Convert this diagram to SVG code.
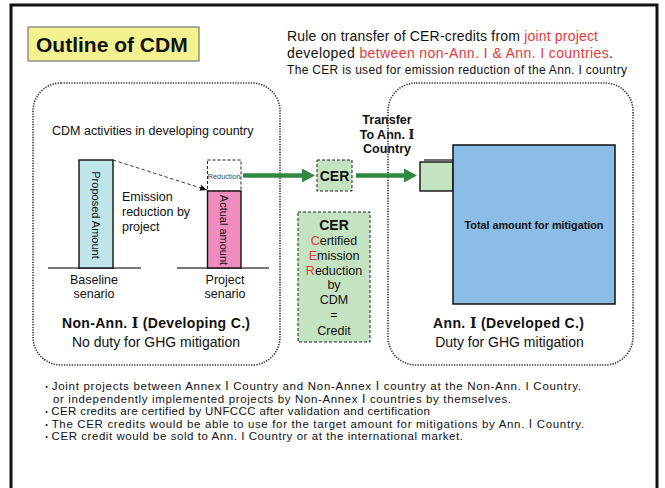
<svg xmlns="http://www.w3.org/2000/svg" width="665" height="488" viewBox="0 0 665 488">
  <style>
    text { font-family: "Liberation Sans", Arial, "DejaVu Sans", "Noto Sans CJK JP", sans-serif; fill: #111; }
    .b { font-weight: bold; }
    .red { fill: #e8383d; }
    .num { font-family: "DejaVu Serif", "Noto Sans CJK JP", serif; }
    .region { fill: none; stroke: #333; stroke-width: 1.6; stroke-dasharray: 1.3 1.3; }
    .dash { stroke: #222; stroke-width: 1; stroke-dasharray: 3 2; }
    .solid { stroke: #111; stroke-width: 1.4; }
    .ground { stroke: #777; stroke-width: 2; }
    .green { fill: #c4e3c0; }
    .flow { stroke: #2f8a3f; stroke-width: 4.5; fill: none; }
    .body { font-size: 12.5px; }
    .note { font-size: 11.5px; }
    .bullet { font-family: "Noto Sans CJK JP", sans-serif; font-size: 9px; }
  </style>
  <defs>
    <marker id="greenHead" viewBox="0 0 13 14" markerWidth="13" markerHeight="14" refX="0" refY="7" orient="auto" markerUnits="userSpaceOnUse">
      <path d="M0,0 L13,7 L0,14 z" fill="#2f8a3f"/>
    </marker>
    <marker id="thinHead" viewBox="0 0 7 6" markerWidth="7" markerHeight="6" refX="7" refY="3" orient="auto" markerUnits="userSpaceOnUse">
      <path d="M0,0 L7,3 L0,6 z" fill="#111"/>
    </marker>
  </defs>

  <rect width="665" height="488" fill="#fff"/>

  <!-- outer frame -->
  <rect id="frame" x="11" y="5" width="646" height="500" fill="none" stroke="#111" stroke-width="3"/>

  <!-- heading -->
  <g id="title">
    <rect x="28" y="27" width="171" height="34" fill="#f2f28e" stroke="#777" stroke-width="1.2"/>
    <text x="36" y="52" class="b" font-size="21">Outline of CDM</text>
  </g>

  <g id="rule-text">
    <text x="287" y="41" font-size="14" textLength="311">Rule on transfer of CER-credits from <tspan class="red">joint project</tspan></text>
    <text x="287" y="57.5" font-size="14" textLength="326">developed <tspan class="red">between non-Ann. Ⅰ  &amp; Ann. I countries</tspan>.</text>
    <text x="287" y="74" font-size="12" textLength="340">The CER is used for emission reduction of the Ann. I country</text>
  </g>

  <!-- developing country region -->
  <g id="region-developing">
    <rect class="region" x="33" y="83" width="247" height="282" rx="28"/>
    <text x="52" y="135" class="body">CDM activities in developing country</text>
    <text x="62" y="328" class="b" font-size="14" textLength="188">Non-Ann. <tspan class="num">Ⅰ</tspan> (Developing C.)</text>
    <text x="156" y="347" font-size="14" text-anchor="middle">No duty for GHG mitigation</text>
  </g>

  <g id="bar-baseline">
    <line class="ground" x1="48" y1="268" x2="141" y2="268"/>
    <rect x="79" y="160" width="34" height="108" fill="#bfe4ea" class="solid"/>
    <text transform="translate(96,215) rotate(90)" font-size="11" text-anchor="middle" dominant-baseline="central">Proposed Amount</text>
    <text x="94" y="284" class="body" text-anchor="middle">Baseline</text>
    <text x="94" y="298" class="body" text-anchor="middle">senario</text>
  </g>

  <g id="bar-project">
    <line class="ground" x1="177" y1="268" x2="269" y2="268"/>
    <rect x="207.5" y="160" width="33.5" height="31" fill="#fff" class="dash"/>
    <text x="224.2" y="178.5" font-size="7.3" text-anchor="middle" style="fill:#444">Reduction</text>
    <rect x="207.5" y="191" width="33.5" height="77" fill="#f18cbf" class="solid"/>
    <text transform="translate(224.2,230) rotate(90)" font-size="11" text-anchor="middle" dominant-baseline="central">Actual amount</text>
    <text x="225" y="284" class="body" text-anchor="middle">Project</text>
    <text x="225" y="298" class="body" text-anchor="middle">senario</text>
  </g>

  <g id="label-reduction">
    <text x="122" y="201" class="body">Emission</text>
    <text x="122" y="216" class="body">reduction by</text>
    <text x="122" y="231" class="body">project</text>
  </g>

  <!-- credit in transit -->
  <g id="cer-token">
    <rect x="317" y="160" width="35" height="31" class="green dash"/>
    <text x="334.5" y="181" class="b" font-size="14" text-anchor="middle">CER</text>
  </g>

  <g id="transfer-label" class="b" font-size="12.5">
    <text x="387" y="124" text-anchor="middle">Transfer</text>
    <text x="387" y="138.5" text-anchor="middle">To Ann. <tspan class="num">Ⅰ</tspan></text>
    <text x="387" y="153" text-anchor="middle">Country</text>
  </g>

  <g id="cer-definition">
    <rect x="298" y="212" width="72" height="130" class="green dash"/>
    <g font-size="12.5" text-anchor="middle">
      <text x="334" y="230" class="b" font-size="14">CER</text>
      <text x="334" y="245"><tspan class="red">C</tspan>ertified</text>
      <text x="334" y="260"><tspan class="red">E</tspan>mission</text>
      <text x="334" y="275"><tspan class="red">R</tspan>eduction</text>
      <text x="334" y="289">by</text>
      <text x="334" y="304">CDM</text>
      <text x="334" y="319">=</text>
      <text x="334" y="335">Credit</text>
    </g>
  </g>

  <!-- developed country region -->
  <g id="region-developed">
    <rect class="region" x="388" y="83" width="245" height="282" rx="28"/>
    <text x="433" y="328" class="b" font-size="14" textLength="151">Ann. <tspan class="num">Ⅰ</tspan> (Developed C.)</text>
    <text x="509.5" y="347" font-size="14" text-anchor="middle">Duty for GHG mitigation</text>
  </g>

  <g id="credit-received">
    <line x1="424" y1="160" x2="453" y2="160" stroke="#111" stroke-width="1.2"/>
    <rect x="420" y="162" width="33" height="29" class="green" stroke="#111" stroke-width="1.4"/>
  </g>

  <g id="total-mitigation">
    <rect x="453" y="145" width="162" height="159" fill="#8bbde6" stroke="#111" stroke-width="1.5"/>
    <text x="534" y="229" class="b" font-size="10.8" text-anchor="middle">Total amount for mitigation</text>
  </g>

  <!-- connectors -->
  <g id="connectors">
    <line x1="113" y1="160" x2="207" y2="190" stroke="#222" stroke-width="0.9" stroke-dasharray="3.5 2.5" marker-end="url(#thinHead)"/>
    <line class="flow" x1="243" y1="175.5" x2="302" y2="175.5" marker-end="url(#greenHead)"/>
    <line class="flow" x1="356" y1="175.5" x2="404" y2="175.5" marker-end="url(#greenHead)"/>
  </g>

  <!-- notes -->
  <g id="notes" class="note">
    <text x="42" y="390" textLength="539"><tspan class="bullet">・</tspan>Joint projects between Annex Ⅰ  Country and Non-Annex  Ⅰ country at the Non-Ann. I Country.</text>
    <text x="53" y="402.5" textLength="458">or independently implemented projects by Non-Annex  Ⅰ countries by themselves.</text>
    <text x="42" y="415" textLength="388"><tspan class="bullet">・</tspan>CER credits are certified by UNFCCC after validation and certification</text>
    <text x="42" y="427.5" textLength="542"><tspan class="bullet">・</tspan>The CER credits would be able to use for the target amount for mitigations by Ann. Ⅰ   Country.</text>
    <text x="42" y="440" textLength="421"><tspan class="bullet">・</tspan>CER credit would be sold to Ann. I Country or at the international market.</text>
  </g>
</svg>
